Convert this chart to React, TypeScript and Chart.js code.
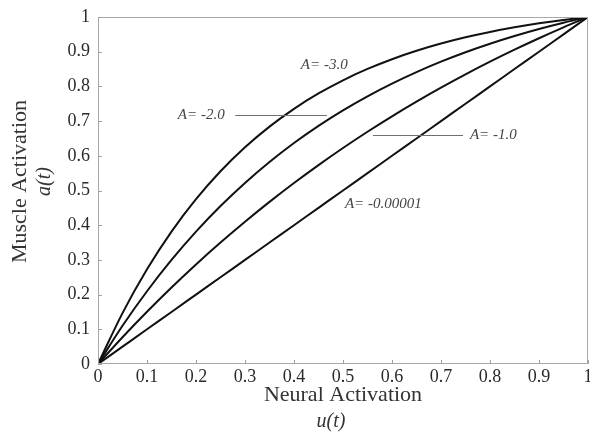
import React, { useEffect, useRef } from 'react';
import { Chart, registerables } from 'chart.js';

Chart.register(...registerables);

// Neural activation u(t)
const uValues = [0, 0.05, 0.1, 0.15, 0.2, 0.25, 0.3, 0.35, 0.4, 0.45, 0.5, 0.55, 0.6, 0.65, 0.7, 0.75, 0.8, 0.85, 0.9, 0.95, 1];
// Muscle activation a(t) for each A
const aMinus3 = [0, 0.1466, 0.2728, 0.3814, 0.4748, 0.5553, 0.6245, 0.6841, 0.7354, 0.7796, 0.8176, 0.8503, 0.8784, 0.9027, 0.9235, 0.9415, 0.9569, 0.9702, 0.9817, 0.9915, 1];
const aMinus2 = [0, 0.1101, 0.2096, 0.2998, 0.3813, 0.4551, 0.5218, 0.5822, 0.6369, 0.6863, 0.7311, 0.7716, 0.8082, 0.8413, 0.8713, 0.8985, 0.9230, 0.9452, 0.9654, 0.9835, 1];
const aMinus1 = [0, 0.0772, 0.1505, 0.2204, 0.2868, 0.3499, 0.4100, 0.4672, 0.5216, 0.5733, 0.6225, 0.6693, 0.7138, 0.7561, 0.7964, 0.8347, 0.8712, 0.9058, 0.9388, 0.9702, 1];
const aMinus00001 = [0, 0.05, 0.1, 0.15, 0.2, 0.25, 0.3, 0.35, 0.4, 0.45, 0.5, 0.55, 0.6, 0.65, 0.7, 0.75, 0.8, 0.85, 0.9, 0.95, 1];

const seriesLabels = ['A= -3.0', 'A= -2.0', 'A= -1.0', 'A= -0.00001'];
const xTickLabels = ['0', '0.1', '0.2', '0.3', '0.4', '0.5', '0.6', '0.7', '0.8', '0.9', '1'];
const yTickLabels = ['0', '0.1', '0.2', '0.3', '0.4', '0.5', '0.6', '0.7', '0.8', '0.9', '1'];

// label anchors in data units (u, a)
const labelAnchorX = [0.414, 0.163, 0.759, 0.504];
const labelAnchorY = [0.862, 0.718, 0.661, 0.461];
// leader lines
const leaderFrom = [0.280, 0.561];
const leaderTo = [0.467, 0.745];
const leaderAt = [0.718, 0.661];

const xTitle = 'Neural Activation';
const xSub = 'u(t)';
const yTitle = 'Muscle Activation';
const ySub = 'a(t)';

const SERIF = '"Liberation Serif", "DejaVu Serif", serif';

const decorPlugin = {
  id: 'decor',
  afterDraw(chart: any) {
    const { ctx, chartArea: ca, scales } = chart;
    const x = scales.x;
    const y = scales.y;
    ctx.save();
    // frame
    ctx.strokeStyle = '#a8a8a8';
    ctx.lineWidth = 1;
    ctx.strokeRect(Math.round(ca.left) + 0.5, Math.round(ca.top) + 0.5, Math.round(ca.right - ca.left) - 1, Math.round(ca.bottom - ca.top) - 1);
    // inward ticks
    ctx.strokeStyle = '#a0a0a0';
    ctx.beginPath();
    x.ticks.forEach((t: any) => {
      const px = Math.round(x.getPixelForValue(t.value)) + 0.5;
      ctx.moveTo(px, ca.bottom);
      ctx.lineTo(px, ca.bottom - 4);
    });
    y.ticks.forEach((t: any) => {
      const py = Math.round(y.getPixelForValue(t.value)) + 0.5;
      ctx.moveTo(ca.left, py);
      ctx.lineTo(ca.left + 4, py);
    });
    ctx.stroke();

    // leader lines
    ctx.strokeStyle = '#707070';
    ctx.lineWidth = 1;
    ctx.beginPath();
    for (let i = 0; i < leaderFrom.length; i++) {
      const py = Math.round(y.getPixelForValue(leaderAt[i])) + 0.5;
      ctx.moveTo(x.getPixelForValue(leaderFrom[i]), py);
      ctx.lineTo(x.getPixelForValue(leaderTo[i]), py);
    }
    ctx.stroke();

    // curve labels
    ctx.fillStyle = '#444';
    ctx.font = `italic 15px ${SERIF}`;
    ctx.textAlign = 'left';
    ctx.textBaseline = 'middle';
    seriesLabels.forEach((s, i) => {
      ctx.fillText(s, x.getPixelForValue(labelAnchorX[i]), y.getPixelForValue(labelAnchorY[i]));
    });

    // axis titles
    ctx.fillStyle = '#333';
    ctx.textAlign = 'center';
    ctx.font = `22px ${SERIF}`;
    const cx = (ca.left + ca.right) / 2;
    ctx.fillText(xTitle, cx, ca.bottom + 31);
    ctx.font = `italic 20px ${SERIF}`;
    ctx.fillText(xSub, cx - 12, ca.bottom + 58);

    const cy = (ca.top + ca.bottom) / 2 - 9;
    ctx.save();
    ctx.translate(20, cy);
    ctx.rotate(-Math.PI / 2);
    ctx.font = `22px ${SERIF}`;
    ctx.fillText(yTitle, 0, 0);
    ctx.restore();
    ctx.save();
    ctx.translate(45, cy);
    ctx.rotate(-Math.PI / 2);
    ctx.font = `italic 20px ${SERIF}`;
    ctx.fillText(ySub, 0, 0);
    ctx.restore();

    ctx.restore();
  },
};

export default function App() {
  const ref = useRef<HTMLCanvasElement | null>(null);
  useEffect(() => {
    if (!ref.current) return;
    const series = [aMinus3, aMinus2, aMinus1, aMinus00001];
    const chart = new Chart(ref.current, {
      type: 'line',
      data: {
        datasets: series.map((vals, si) => ({
          label: seriesLabels[si],
          data: uValues.map((u, i) => ({ x: u, y: vals[i] })),
          borderColor: '#111',
          borderWidth: 2,
          pointRadius: 0,
          fill: false,
          cubicInterpolationMode: 'monotone' as const,
        })),
      },
      options: {
        responsive: false,
        animation: false,
        devicePixelRatio: 1,
        layout: { padding: { top: 17, right: 2, left: 0, bottom: 0 } },
        plugins: {
          legend: { display: false },
          tooltip: { enabled: false },
        },
        scales: {
          x: {
            type: 'linear',
            min: 0,
            max: 1,
            grid: { display: false, drawTicks: false },
            border: { display: false },
            ticks: {
              stepSize: 0.1,
              padding: 2,
              color: '#2a2a2a',
              font: { family: SERIF, size: 18 },
              maxRotation: 0,
              autoSkip: false,
              callback: (_v: any, i: number) => xTickLabels[i],
            },
            afterFit: (s: any) => {
              s.height = 71;
              s.paddingLeft = 0;
              s.paddingRight = 0;
            },
          },
          y: {
            type: 'linear',
            min: 0,
            max: 1,
            grid: { display: false, drawTicks: false },
            border: { display: false },
            ticks: {
              stepSize: 0.1,
              padding: 8,
              color: '#2a2a2a',
              font: { family: SERIF, size: 18 },
              autoSkip: false,
              callback: (_v: any, i: number) => yTickLabels[i],
            },
            afterFit: (s: any) => {
              s.width = 98;
              s.paddingTop = 0;
              s.paddingBottom = 0;
            },
          },
        },
      },
      plugins: [decorPlugin],
    });
    return () => chart.destroy();
  }, []);
  return (
    <div style={{ position: 'absolute', left: 0, top: 0, width: 590, height: 435, background: '#fff' }}>
      <canvas ref={ref} width={590} height={435} style={{ width: 590, height: 435, display: 'block' }} />
    </div>
  );
}
